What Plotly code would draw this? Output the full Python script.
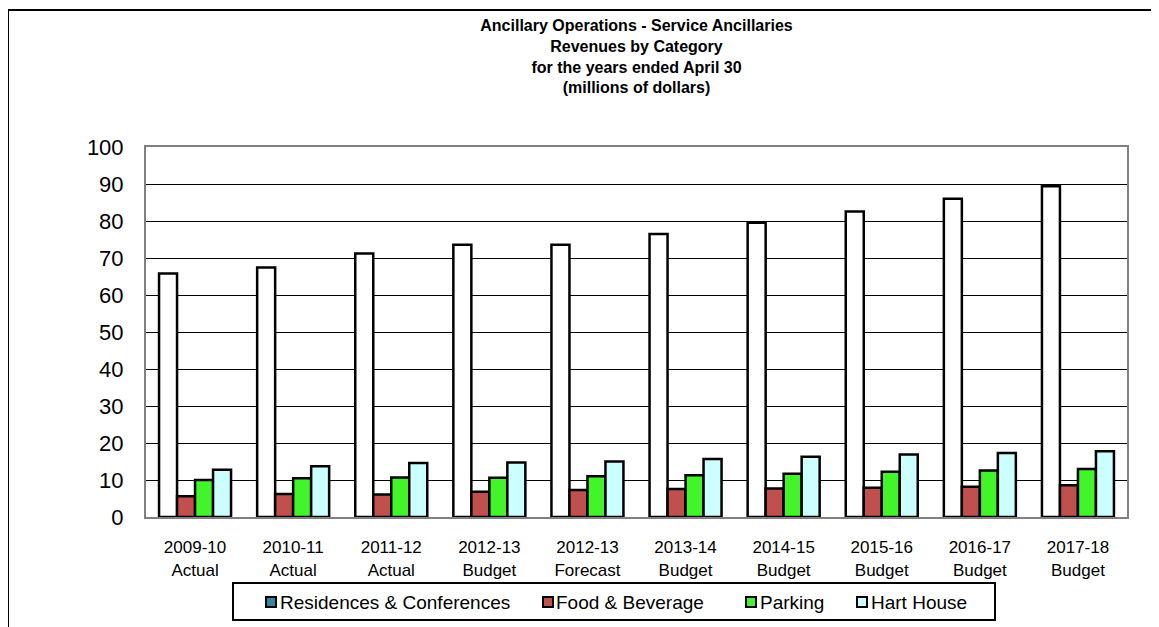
import plotly.graph_objects as go

categories = ["2009-10<br>Actual", "2010-11<br>Actual", "2011-12<br>Actual", "2012-13<br>Budget",
              "2012-13<br>Forecast", "2013-14<br>Budget", "2014-15<br>Budget", "2015-16<br>Budget",
              "2016-17<br>Budget", "2017-18<br>Budget"]
residences = [65.8, 67.4, 71.2, 73.6, 73.6, 76.5, 79.5, 82.6, 86.0, 89.4]
food_beverage = [5.6, 6.2, 6.1, 6.8, 7.3, 7.6, 7.7, 7.9, 8.2, 8.6]
parking = [10.0, 10.5, 10.7, 10.6, 11.0, 11.3, 11.7, 12.2, 12.6, 13.0]
hart_house = [12.8, 13.7, 14.6, 14.7, 15.0, 15.7, 16.3, 16.9, 17.3, 17.8]
y_ticks = [0, 10, 20, 30, 40, 50, 60, 70, 80, 90, 100]

series_names = ["Residences & Conferences", "Food & Beverage", "Parking", "Hart House"]
series_values = [residences, food_beverage, parking, hart_house]
bar_fills = ["#FFFFFF", "#C0504D", "#42F52A", "#CCFFFF"]
legend_fills = ["#31859C", "#C0504D", "#42F52A", "#CCFFFF"]

# figure geometry (pixels); page has an 8px body margin
W, H = 1151, 619
L, R, T, B = 138, 32, 139, 110
PW, PH = W - L - R, H - T - B


def px_x(x):
    return (x - L) / PW


def px_y(y):
    return (H - B - y) / PH


fig = go.Figure()
for name, vals, fill in zip(series_names, series_values, bar_fills):
    fig.add_trace(go.Bar(x=categories, y=vals, name=name, showlegend=False,
                         marker=dict(color=fill, line=dict(color="#000000", width=2.5))))

fig.update_layout(
    width=W, height=H,
    margin=dict(l=L, r=R, t=T, b=B, autoexpand=False),
    paper_bgcolor="#FFFFFF", plot_bgcolor="#FFFFFF",
    barmode="group", bargap=0.266, bargroupgap=0,
    font=dict(family="Liberation Sans, Arial, sans-serif", color="#000000"),
    title=dict(text="<b>Ancillary Operations - Service Ancillaries<br>Revenues by Category<br>for the years ended April 30<br>(millions of dollars)</b>",
               x=0.5, xref="paper", xanchor="center", y=1 - 23 / H, yref="container", yanchor="top",
               font=dict(size=16, family="Liberation Sans, Arial, sans-serif")),
    showlegend=False,
)
fig.update_yaxes(range=[0, 100], tickvals=y_ticks, showgrid=True, gridcolor="#000000", gridwidth=1,
                 showline=True, linecolor="#808080", linewidth=2, mirror=True, zeroline=False,
                 ticks="", ticklabelstandoff=16, tickfont=dict(size=22))
fig.update_xaxes(showline=True, linecolor="#808080", linewidth=2, mirror=True, ticks="",
                 ticklabelstandoff=14, tickfont=dict(size=17))

# outer chart frame (extends past the right and bottom edges)
fig.add_shape(type="rect", xref="paper", yref="paper", x0=px_x(0), x1=px_x(W + 60), y0=px_y(H + 60), y1=px_y(2),
              line=dict(color="#000000", width=2), fillcolor="rgba(0,0,0,0)", layer="below")

# legend box
leg_box = (225, 575, 987, 612)
fig.add_shape(type="rect", xref="paper", yref="paper", x0=px_x(leg_box[0]), x1=px_x(leg_box[2]),
              y0=px_y(leg_box[3]), y1=px_y(leg_box[1]), line=dict(color="#000000", width=2),
              fillcolor="#FFFFFF")
leg_marker_left = [258, 535, 738, 849]
leg_text_left = [270, 546, 750, 861]
leg_cy = 594
for name, col, mx, tx in zip(series_names, legend_fills, leg_marker_left, leg_text_left):
    fig.add_shape(type="rect", xref="paper", yref="paper", x0=px_x(mx), x1=px_x(mx + 10),
                  y0=px_y(leg_cy + 5), y1=px_y(leg_cy - 5),
                  line=dict(color="#000000", width=2), fillcolor=col)
    fig.add_annotation(text=name, xref="paper", yref="paper", x=px_x(tx), y=px_y(leg_cy),
                       xanchor="left", yanchor="middle", showarrow=False,
                       font=dict(size=19, family="Liberation Sans, Arial, sans-serif", color="#000000"))

fig.write_html("out.html")
